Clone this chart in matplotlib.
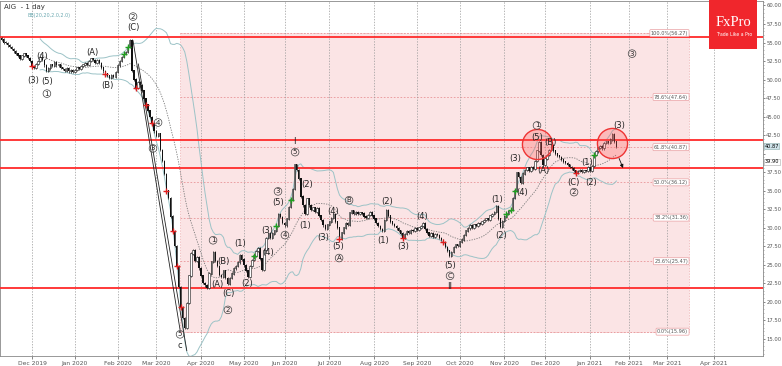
import matplotlib
matplotlib.use('Agg')
import matplotlib.pyplot as plt
from matplotlib.patches import Rectangle
import numpy as np
import pandas as pd

# daily closes (AIG, trading days from 8 Nov 2019)
closes = [
    55.4, 55.0, 54.9, 54.6, 54.4, 54.1, 53.8, 53.5, 53.2, 52.8,
    53.2, 53.5, 53.2, 52.9, 52.5, 51.8, 51.6, 52.1, 52.5, 53.0,
    52.6, 51.9, 51.2, 51.5, 52.0, 51.8, 52.3, 51.9, 52.0, 51.6,
    51.4, 51.2, 51.5, 51.1, 51.3, 51.0, 51.3, 51.6, 51.4, 51.8,
    52.0, 52.2, 52.0, 52.5, 52.8, 52.6, 52.3, 52.6, 52.2, 51.6,
    51.1, 50.8, 50.5, 50.2, 50.6, 50.4, 51.0, 51.9, 52.5, 53.0,
    53.4, 53.7, 54.4, 55.3, 51.2, 50.0, 48.9, 49.6, 49.2, 48.5,
    47.4, 46.6, 45.8, 44.9, 44.1, 43.0, 42.4, 42.7, 40.5, 39.0,
    37.2, 35.0, 34.0, 31.5, 29.5, 27.5, 24.8, 22.0, 19.3, 17.8,
    16.5, 19.8, 23.5, 26.5, 27.0, 25.5, 26.0, 24.5, 23.5, 22.5,
    22.2, 21.9, 23.8, 25.4, 26.7, 25.5, 24.8, 23.6, 23.3, 24.2,
    23.2, 22.4, 23.2, 23.8, 24.5, 24.8, 25.3, 26.3, 25.7, 24.9,
    24.2, 23.3, 24.8, 25.6, 26.2, 26.8, 27.2, 25.8, 24.3, 27.0,
    28.6, 29.2, 28.6, 29.2, 29.6, 30.2, 31.8, 31.4, 30.6, 30.3,
    31.2, 32.8, 33.8, 35.2, 38.5, 37.8, 36.6, 34.2, 33.0, 31.8,
    33.9, 33.0, 32.4, 32.7, 32.1, 32.6, 31.6, 31.0, 30.3, 29.8,
    30.4, 30.8, 31.3, 31.8, 30.8, 30.0, 28.5, 29.3, 30.0, 30.6,
    30.4, 32.0, 32.3, 31.9, 32.1, 31.8, 32.0, 31.9, 31.5, 31.3,
    31.7, 32.1, 31.6, 31.2, 30.6, 30.2, 29.8, 29.6, 31.0, 32.4,
    31.6, 30.8, 30.5, 30.2, 29.9, 29.6, 29.2, 28.6, 29.1, 29.5,
    29.3, 29.7, 29.5, 29.9, 29.7, 30.0, 30.2, 30.6, 29.8, 29.3,
    28.9, 29.2, 28.8, 29.1, 29.0, 28.6, 28.3, 28.0, 27.4, 26.9,
    26.2, 26.7, 27.4, 27.7, 27.5, 28.1, 28.4, 29.0, 29.6, 29.9,
    30.3, 30.0, 30.4, 30.2, 30.6, 30.5, 30.8, 31.0, 31.2, 31.0,
    31.6, 31.8, 32.1, 32.9, 31.2, 30.1, 30.9, 31.5, 31.9, 32.2,
    32.4, 34.0, 35.0, 37.4, 36.8, 36.0, 37.3, 37.8, 38.1, 37.7,
    38.2, 37.9, 39.0, 40.4, 41.5, 39.8, 38.5, 39.3, 39.8, 40.5,
    41.1, 40.4, 40.0, 39.7, 39.5, 39.2, 38.9, 38.7, 38.5, 38.2,
    38.0, 37.7, 37.4, 37.6, 37.8, 37.5, 37.7, 37.6, 38.2, 37.6,
    38.3, 39.8, 40.3, 40.8, 41.0, 40.7, 41.4, 41.6, 41.5, 41.9,
    42.6, 41.6, 40.87,
]
first_open = 55.6
holidays = ['2019-11-28', '2019-12-25', '2020-01-01', '2020-01-20', '2020-02-17',
            '2020-04-10', '2020-05-25', '2020-07-03', '2020-09-07', '2020-11-26',
            '2020-12-25', '2021-01-01', '2021-01-18', '2021-02-15', '2021-04-02']

red_signals = [15, 51, 66, 71, 74, 81, 84, 86, 88, 166, 197, 217, 282]
green_signals = [60, 62, 124, 135, 142, 248, 250, 252, 291]

fib_values = [15.96, 25.47, 31.36, 36.12, 40.87, 47.64, 56.27]
fib_labels = ['0.0%(15.96)', '23.6%(25.47)', '38.2%(31.36)', '50.0%(36.12)',
              '61.8%(40.87)', '78.6%(47.64)', '100.0%(56.27)']
fib_start, fib_end = 87.7, 337.7
red_levels = [55.7, 41.87, 38.0, 21.9]

# Elliott wave labels: (text, bar, price, circled)
waves = [
    ('(3)', 15.5, 49.9, False), ('(4)', 19.9, 53.1, False), ('(5)', 22.3, 49.7, False),
    ('1', 22.3, 48.1, True), ('(A)', 44.4, 53.6, False), ('(B)', 51.8, 49.2, False),
    ('2', 64.6, 58.5, True), ('(C)', 64.6, 57.0, False), ('4', 76.9, 44.2, True),
    ('3', 74.4, 40.7, True), ('5', 87.7, 15.6, True), ('c', 87.7, 14.1, False),
    ('1', 103.9, 28.3, True), ('(B)', 108.8, 25.4, False), ('(A)', 106.0, 22.3, False),
    ('(C)', 111.6, 21.1, False), ('2', 111.2, 18.9, True), ('(1)', 117.1, 27.9, False),
    ('(2)', 120.6, 22.4, False), ('(3)', 130.4, 29.6, False), ('(4)', 130.9, 26.7, False),
    ('4', 139.2, 29.0, True), ('3', 135.8, 34.9, True), ('(5)', 135.8, 33.4, False),
    ('I', 143.7, 41.7, False), ('5', 144.2, 40.2, True), ('(2)', 150.1, 35.8, False),
    ('(1)', 149.1, 30.3, False), ('(3)', 157.9, 28.7, False), ('(4)', 162.8, 32.2, False),
    ('(5)', 165.3, 27.4, False), ('A', 165.8, 25.9, True), ('B', 170.7, 33.7, True),
    ('(1)', 187.4, 28.3, False), ('(2)', 189.3, 33.6, False), ('(3)', 197.2, 27.5, False),
    ('(4)', 206.5, 31.5, False), ('(5)', 220.3, 24.9, False), ('C', 220.3, 23.5, True),
    ('II', 220.3, 22.1, False), ('(1)', 243.4, 33.8, False), ('(2)', 245.3, 29.0, False),
    ('(3)', 252.2, 39.3, False), ('(4)', 255.7, 34.8, False), ('1', 263.0, 43.8, True),
    ('(5)', 263.0, 42.2, False), ('(A)', 266.0, 37.7, False), ('(B)', 269.4, 41.5, False),
    ('(C)', 280.7, 36.1, False), ('2', 281.2, 34.8, True), ('(1)', 287.6, 38.8, False),
    ('(2)', 289.6, 36.1, False), ('(3)', 303.3, 43.8, False), ('3', 309.7, 53.5, True),
]

days = pd.bdate_range('2019-11-08', '2021-05-28', freq='C', holidays=holidays)
n = len(closes)
idx = np.arange(n)
opens = [first_open] + closes[:-1]

s = pd.Series(closes)
mid = s.rolling(20).mean()
sd = s.rolling(20).std(ddof=0)

fig = plt.figure(figsize=(7.82, 3.66), dpi=100)
ax = fig.add_axes([0, 0.027, 0.9757, 0.971])
ax.set_xlim(-0.74, 374)
ax.set_ylim(12.66, 60.64)

# fibonacci zone
ax.add_patch(Rectangle((fib_start, fib_values[0]), fib_end - fib_start,
                       fib_values[-1] - fib_values[0], fc='#fbe4e5',
                       ec='#efb0b3', lw=0.5, ls=(0, (2, 2)), zorder=0))
for v, lab in zip(fib_values, fib_labels):
    ax.plot([fib_start, fib_end], [v, v], color='#e89598', lw=0.6, ls=(0, (2, 2)), zorder=1)
    ax.text(fib_end - 0.5, v, lab, fontsize=3.6, ha='right', va='center', color='#555',
            bbox=dict(boxstyle='round,pad=0.2', fc='white', ec='#e9a0a3', lw=0.5), zorder=6)

# month grid
months = pd.Series(range(len(days)), index=days)
first_days = months.groupby([days.year, days.month]).min()
tick_pos = [p for p in first_days.values if 5 < p < 360]
tick_lab = [days[p].strftime('%b %Y') for p in tick_pos]
ax.set_xticks(tick_pos)
ax.set_xticklabels(tick_lab, fontsize=4.3, color='#444')
ax.grid(axis='x', color='#999', lw=0.5, ls=(0, (2, 2)))

for lv in red_levels:
    ax.axhline(lv, color='#ff2a2a', lw=1.3, zorder=3)

# bollinger bands
ax.plot(idx, mid + 2 * sd, color='#9cc3c7', lw=0.7, zorder=2)
ax.plot(idx, mid - 2 * sd, color='#9cc3c7', lw=0.7, zorder=2)
ax.plot(idx, mid, color='#777', lw=0.6, ls=(0, (1.5, 1.5)), zorder=2)

# candles
lo = np.minimum(opens, closes)
hi = np.maximum(opens, closes)
up = np.array(closes) >= np.array(opens)
ax.vlines(idx, lo - 0.15, hi + 0.15, color='#111', lw=0.5, zorder=4)
ax.bar(idx[~up], (hi - lo)[~up] + 0.05, bottom=lo[~up], width=0.7, color='#111', lw=0, zorder=4)
ax.bar(idx[up], (hi - lo)[up] + 0.05, bottom=lo[up], width=0.7, color='white', ec='#111', lw=0.4, zorder=4)

cl = np.array(closes)
ax.scatter(red_signals, cl[red_signals], marker='+', s=14, color='#e02020', lw=1.0, zorder=5)
ax.scatter(green_signals, cl[green_signals], marker='+', s=14, color='#20a020', lw=1.0, zorder=5)

# trend lines of the crash
ax.plot([64.6, 87.7], [55.25, 16.2], color='#222', lw=0.6, zorder=4)
ax.plot([67.2, 91.0], [52.1, 13.4], color='#222', lw=0.6, zorder=4)

# red circles + arrow
ax.scatter([263.0, 299.9], [41.35, 41.5], s=470, fc=(1, 0.35, 0.35, 0.3), ec='#ee3333', lw=1.0, zorder=5)
ax.annotate('', xy=(305.8, 37.7), xytext=(302.8, 39.7),
            arrowprops=dict(arrowstyle='-|>', lw=0.6, color='#111', mutation_scale=5), zorder=6)

for txt, x, y, circ in waves:
    if circ:
        ax.text(x, y, txt, fontsize=5, ha='center', va='center', color='#222', zorder=7,
                bbox=dict(boxstyle='circle,pad=0.12', fc='none', ec='#444', lw=0.5))
    else:
        ax.text(x, y, txt, fontsize=6, ha='center', va='center', color='#222', zorder=7)

# right price axis
ax.yaxis.tick_right()
yt = np.arange(15, 60.1, 2.5)
ax.set_yticks(yt)
ax.set_yticklabels(['' if v == 40 else '%.2f' % v for v in yt], fontsize=3.8, color='#444')
ax.set_yticks(np.arange(13, 60.6, 0.5), minor=True)
ax.tick_params(axis='y', which='major', length=1.5, width=0.5, pad=0.8, colors='#555')
ax.tick_params(axis='y', which='minor', length=1, width=0.4, colors='#777')
ax.tick_params(axis='x', length=2, width=0.5, pad=1.5, colors='#555')
for sp in ax.spines.values():
    sp.set_color('#888')
    sp.set_linewidth(0.6)

ytr = ax.get_yaxis_transform()
ax.text(1.002, 40.97, '40.87', transform=ytr, fontsize=3.6, va='center', ha='left',
        bbox=dict(boxstyle='square,pad=0.1', fc='#cfe3ea', ec='#8aa', lw=0.4), clip_on=False)
ax.text(1.002, 38.9, '39.90', transform=ytr, fontsize=3.6, va='center', ha='left',
        bbox=dict(boxstyle='square,pad=0.1', fc='white', ec='#aaa', lw=0.4), clip_on=False)

ax.text(0.005, 0.99, 'AIG  - 1 day', transform=ax.transAxes, fontsize=5, va='top', color='#333')
ax.text(0.036, 0.965, 'BB(20,20,2.0,2.0)', transform=ax.transAxes, fontsize=3.5, va='top', color='#6aa8b0')

# logo
fig.patches.append(Rectangle((0.9066, 0.866), 0.0614, 0.134, transform=fig.transFigure,
                             fc='#f0262c', ec='none', zorder=10))
fig.text(0.9385, 0.938, 'FxPro', family='Liberation Serif', fontsize=10.5, color='white',
         ha='center', va='center', zorder=11)
fig.text(0.9385, 0.905, 'Trade Like a Pro', fontsize=3.3, color='white', ha='center', va='center', zorder=11)

fig.savefig('out.png', dpi=100)
